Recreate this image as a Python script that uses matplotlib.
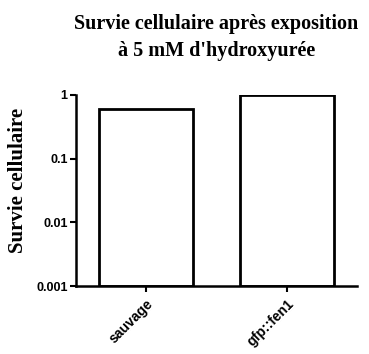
import matplotlib
matplotlib.use("Agg")
import matplotlib.pyplot as plt

# données
souches = ["sauvage", "gfp::fen1"]
survie = [0.6, 0.98]
yticks = [0.001, 0.01, 0.1, 1]
ytick_labels = ["0.001", "0.01", "0.1", "1"]

fig = plt.figure(figsize=(3.69, 3.54), dpi=100)
ax = fig.add_axes([0.206, 0.192, 0.761, 0.540])

ax.bar(range(len(souches)), survie, width=0.67, bottom=0.001,
       color="white", edgecolor="black", linewidth=2)

ax.set_yscale("log")
ax.set_ylim(0.001, 1)
ax.set_xlim(-0.5, 1.5)
ax.set_yticks(yticks)
ax.set_yticklabels(ytick_labels, fontfamily="Liberation Sans",
                   fontweight="bold", fontsize=9)
ax.minorticks_off()
ax.set_xticks(range(len(souches)))
ax.set_xticklabels(souches, rotation=45, ha="right", rotation_mode="anchor",
                   fontfamily="Liberation Sans", fontweight="bold", fontsize=10)

for s in ["top", "right"]:
    ax.spines[s].set_visible(False)
for s in ["left", "bottom"]:
    ax.spines[s].set_linewidth(1.8)
ax.tick_params(width=1.5, length=4, pad=2)
ax.tick_params(axis="x", pad=4)

ax.set_ylabel("Survie cellulaire", fontfamily="Liberation Serif",
              fontweight="bold", fontsize=15)
ax.yaxis.set_label_coords(-0.17, 0.555)
ax.set_title("Survie cellulaire après exposition\nà 5 mM d'hydroxyurée",
             fontfamily="Liberation Serif", fontweight="bold",
             fontsize=14.5, pad=28, linespacing=1.45)

fig.savefig("out.png", dpi=100)
